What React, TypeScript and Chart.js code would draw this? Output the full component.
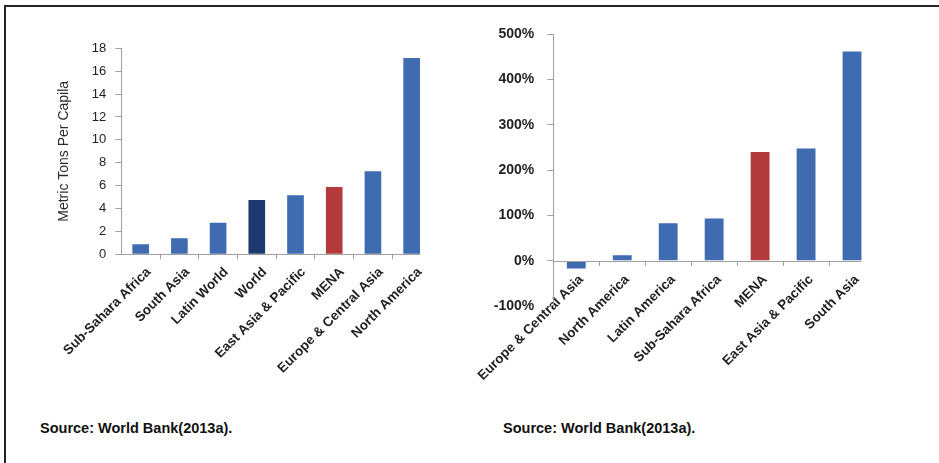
import { useEffect, useRef } from "react";
import { Chart, registerables } from "chart.js";

Chart.register(...registerables);

// Per-capita CO2 emissions by region (metric tons)
const emissionRegions = [
  "Sub-Sahara Africa",
  "South Asia",
  "Latin World",
  "World",
  "East Asia & Pacific",
  "MENA",
  "Europe & Central Asia",
  "North America",
];
const emissionValues = [0.87, 1.4, 2.76, 4.75, 5.16, 5.88, 7.26, 17.16];

// Growth in emissions by region (percent)
const growthRegions = [
  "Europe & Central Asia",
  "North America",
  "Latin America",
  "Sub-Sahara Africa",
  "MENA",
  "East Asia & Pacific",
  "South Asia",
];
const growthValues = [-17, 12, 83, 93, 240, 248, 462];

const emissionTickRange = { min: 0, max: 18, step: 2 };
const growthTickRange = { min: -100, max: 500, step: 100 };

const sourceNote = "Source: World Bank(2013a).";
const emissionAxisTitle = "Metric Tons Per Capila";

const BLUE = "#3F6BB0";
const NAVY = "#1C3A6D";
const RED = "#B23A3C";
const AXIS_GRAY = "#A0A0A0";
const TEXT = "#1f1f1f";
const FONT = "'Liberation Sans', Arial, Helvetica, sans-serif";

const colorFor = (label: string) =>
  label === "MENA" ? RED : label === "World" ? NAVY : BLUE;

// Category boundary ticks, skipping the ones at both ends of the axis
const boundaryTickColor = (ctx: any) =>
  ctx.type === "tick" && ctx.index > 0 ? AXIS_GRAY : "rgba(0,0,0,0)";

// Horizontal zero line running from the value axis to the far edge of the last bar
const zeroLinePlugin = {
  id: "zeroLine",
  afterDraw(chart: any) {
    const meta = chart.getDatasetMeta(0);
    const last = meta.data[meta.data.length - 1];
    if (!last) return;
    const { x, width } = last.getProps(["x", "width"], true);
    const y = Math.round(chart.scales.y.getPixelForValue(0)) + 0.5;
    const ctx = chart.ctx;
    ctx.save();
    ctx.strokeStyle = AXIS_GRAY;
    ctx.lineWidth = 1;
    ctx.beginPath();
    ctx.moveTo(chart.chartArea.left, y);
    ctx.lineTo(x + width / 2, y);
    ctx.stroke();
    ctx.restore();
  },
};

type PanelProps = {
  labels: string[];
  values: number[];
  config: (labels: string[], values: number[]) => any;
  left: number;
  width: number;
  height: number;
};

function BarPanel({ labels, values, config, left, width, height }: PanelProps) {
  const ref = useRef<HTMLCanvasElement | null>(null);
  useEffect(() => {
    if (!ref.current) return;
    const chart = new Chart(ref.current, config(labels, values));
    return () => chart.destroy();
  }, [labels, values, config]);
  return (
    <canvas
      ref={ref}
      width={width}
      height={height}
      style={{ position: "absolute", left, top: 0, width, height }}
    />
  );
}

const emissionConfig = (labels: string[], values: number[]) => ({
  type: "bar",
  data: {
    labels,
    datasets: [
      {
        data: values,
        backgroundColor: labels.map(colorFor),
        borderWidth: 0,
        barPercentage: 0.43,
        categoryPercentage: 1,
      },
    ],
  },
  plugins: [zeroLinePlugin],
  options: {
    responsive: false,
    animation: false,
    layout: { padding: { left: 51.5, right: 39, top: 48.3, bottom: 5.7 } },
    plugins: { legend: { display: false }, tooltip: { enabled: false } },
    scales: {
      x: {
        offset: true,
        grid: {
          offset: true,
          drawOnChartArea: false,
          drawTicks: true,
          tickLength: 5,
          tickColor: boundaryTickColor,
        },
        border: { display: false },
        ticks: {
          autoSkip: false,
          minRotation: 45,
          maxRotation: 45,
          labelOffset: 8,
          padding: 5,
          color: TEXT,
          font: { family: FONT, size: 13.5, weight: "bold" },
        },
        afterFit: (s: any) => {
          s.height = 140;
          s.paddingLeft = 0;
          s.paddingRight = 0;
        },
      },
      y: {
        min: emissionTickRange.min,
        max: emissionTickRange.max,
        ticks: {
          stepSize: emissionTickRange.step,
          padding: 9,
          color: TEXT,
          font: { family: FONT, size: 13 },
        },
        grid: { drawOnChartArea: false, tickLength: 6, color: AXIS_GRAY },
        border: { display: true, color: AXIS_GRAY },
        title: {
          display: true,
          text: emissionAxisTitle,
          color: "#2a2a2a",
          padding: { top: 4, bottom: 4 },
          font: { family: FONT, size: 14 },
        },
        afterFit: (s: any) => {
          s.width = 69.8;
        },
      },
    },
  },
});

const growthConfig = (labels: string[], values: number[]) => ({
  type: "bar",
  data: {
    labels,
    datasets: [
      {
        data: values,
        backgroundColor: labels.map(colorFor),
        borderWidth: 0,
        barPercentage: 0.41,
        categoryPercentage: 1,
      },
    ],
  },
  plugins: [zeroLinePlugin],
  options: {
    responsive: false,
    animation: false,
    layout: { padding: { left: 0, right: 64, top: 34.3, bottom: 94 } },
    plugins: { legend: { display: false }, tooltip: { enabled: false } },
    scales: {
      x: {
        position: { y: 0 },
        offset: true,
        grid: {
          offset: true,
          drawOnChartArea: false,
          drawTicks: true,
          tickLength: 5,
          tickColor: boundaryTickColor,
        },
        border: { display: false },
        ticks: {
          autoSkip: false,
          minRotation: 45,
          maxRotation: 45,
          labelOffset: 5,
          padding: 6,
          color: TEXT,
          font: { family: FONT, size: 13.5, weight: "bold" },
        },
        afterFit: (s: any) => {
          s.paddingLeft = 0;
          s.paddingRight = 0;
        },
      },
      y: {
        min: growthTickRange.min,
        max: growthTickRange.max,
        ticks: {
          stepSize: growthTickRange.step,
          padding: 13,
          color: TEXT,
          font: { family: FONT, size: 14, weight: "bold" },
          callback: (v: any) => `${v}%`,
        },
        grid: { drawOnChartArea: false, tickLength: 6, color: AXIS_GRAY },
        border: { display: true, color: AXIS_GRAY },
        afterFit: (s: any) => {
          s.width = 83.3;
        },
      },
    },
  },
});

const noteStyle = {
  position: "absolute" as const,
  top: 420,
  fontFamily: FONT,
  fontWeight: "bold" as const,
  fontSize: 14.5,
  lineHeight: "16px",
  color: "#111",
  whiteSpace: "nowrap" as const,
};

export default function App() {
  return (
    <div
      style={{
        position: "absolute",
        left: 0,
        top: 0,
        width: 939,
        height: 463,
        background: "#fff",
        overflow: "hidden",
      }}
    >
      <BarPanel
        labels={emissionRegions}
        values={emissionValues}
        config={emissionConfig}
        left={0}
        width={470}
        height={400}
      />
      <BarPanel
        labels={growthRegions}
        values={growthValues}
        config={growthConfig}
        left={470}
        width={469}
        height={400}
      />
      <div style={{ ...noteStyle, left: 40 }}>{sourceNote}</div>
      <div style={{ ...noteStyle, left: 503 }}>{sourceNote}</div>
      <div
        style={{
          position: "absolute",
          left: 4,
          top: 5,
          width: 935,
          height: 458,
          borderTop: "2px solid #262626",
          borderLeft: "2px solid #262626",
          boxSizing: "border-box",
          pointerEvents: "none",
        }}
      />
    </div>
  );
}
